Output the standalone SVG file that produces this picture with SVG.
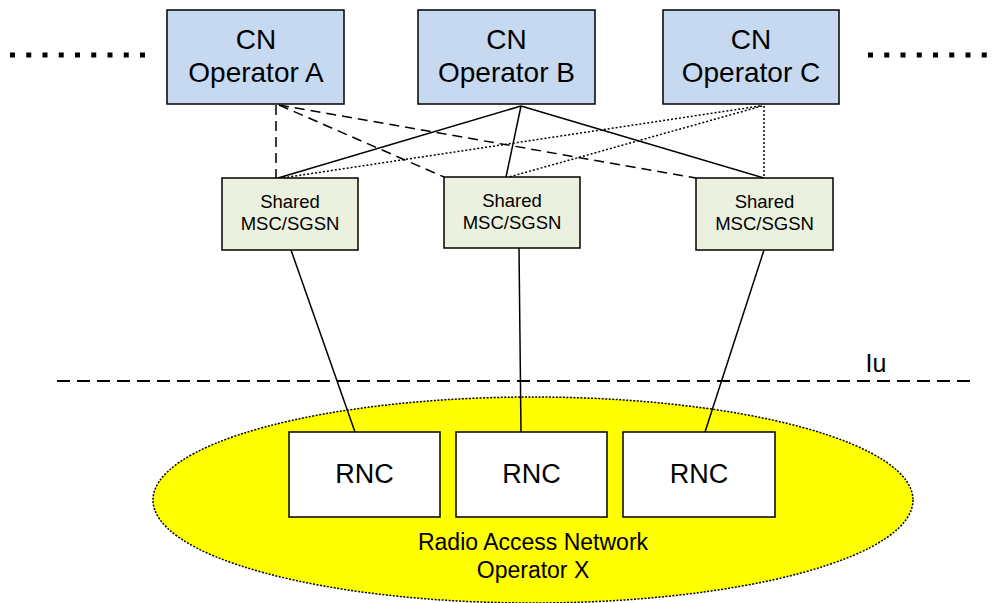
<svg xmlns="http://www.w3.org/2000/svg" width="996" height="603" viewBox="0 0 996 603">
<style>
.cn{fill:#c6d9f1;stroke:#000;stroke-width:1.5}
.sh{fill:#ebf1de;stroke:#000;stroke-width:1.5}
.rnc{fill:#fff;stroke:#000;stroke-width:1.5}
text{font-family:"Liberation Sans",Arial,sans-serif;fill:#000;text-anchor:middle}
.t28{font-size:28px}
.t18{font-size:18.5px}
.t27{font-size:27px}
.t23{font-size:23px}
.solid{stroke:#000;stroke-width:1.5;fill:none}
.dash{stroke:#000;stroke-width:1.5;fill:none;stroke-dasharray:10 6}
.dot{stroke:#000;stroke-width:1.5;fill:none;stroke-dasharray:2 2}
</style>
<g id="ran">
<ellipse cx="533" cy="500" rx="380" ry="103" fill="#ffff00" stroke="#000" stroke-width="1.5" stroke-dasharray="2 1.5"/>
<text class="t23" x="533" y="550">Radio Access Network</text>
<text class="t23" x="533" y="578">Operator X</text>
</g>
<g id="ellipsis-left"><line x1="10" y1="55" x2="150" y2="55" stroke="#000" stroke-width="5" stroke-dasharray="5 11.25"/></g>
<g id="ellipsis-right"><line x1="868" y1="55" x2="990" y2="55" stroke="#000" stroke-width="5" stroke-dasharray="5 11.25"/></g>
<g id="iu">
<line x1="57" y1="381" x2="975" y2="381" stroke="#000" stroke-width="2" stroke-dasharray="13 7"/>
<text x="876" y="372" style="font-size:25px">Iu</text>
</g>
<g id="connectors">
<line class="dash" x1="276" y1="105" x2="276" y2="178"/>
<line class="dash" x1="279" y1="105" x2="444" y2="177"/>
<line class="dash" x1="279" y1="105" x2="696" y2="178"/>
<line class="solid" x1="521" y1="106" x2="278" y2="178"/>
<line class="solid" x1="521" y1="106" x2="506" y2="177"/>
<line class="solid" x1="521" y1="106" x2="764" y2="178"/>
<line class="dot" x1="760" y1="106" x2="282" y2="178"/>
<line class="dot" x1="762" y1="106" x2="509" y2="177"/>
<line class="dot" x1="764" y1="106" x2="764" y2="178"/>
<line class="solid" x1="291" y1="250" x2="355" y2="432"/>
<line class="solid" x1="519" y1="248" x2="521" y2="432"/>
<line class="solid" x1="764" y1="250" x2="705" y2="432"/>
</g>
<g id="cn-a"><rect class="cn" x="167" y="10" width="177" height="94"/><text class="t28" x="256" y="49">CN</text><text class="t28" x="256" y="82">Operator A</text></g>
<g id="cn-b"><rect class="cn" x="418" y="10" width="177" height="94"/><text class="t28" x="506.5" y="49">CN</text><text class="t28" x="506.5" y="82">Operator B</text></g>
<g id="cn-c"><rect class="cn" x="663" y="10" width="176" height="94"/><text class="t28" x="751" y="49">CN</text><text class="t28" x="751" y="82">Operator C</text></g>
<g id="shared-1"><rect class="sh" x="222" y="178" width="136" height="72"/><text class="t18" x="290" y="208">Shared</text><text class="t18" x="290" y="230">MSC/SGSN</text></g>
<g id="shared-2"><rect class="sh" x="444" y="177" width="136" height="71"/><text class="t18" x="512" y="207">Shared</text><text class="t18" x="512" y="229">MSC/SGSN</text></g>
<g id="shared-3"><rect class="sh" x="696" y="178" width="137" height="72"/><text class="t18" x="764.5" y="208">Shared</text><text class="t18" x="764.5" y="230">MSC/SGSN</text></g>
<g id="rnc-1"><rect class="rnc" x="289" y="432" width="151" height="85"/><text class="t27" x="364.5" y="483">RNC</text></g>
<g id="rnc-2"><rect class="rnc" x="456" y="432" width="151" height="85"/><text class="t27" x="531.5" y="483">RNC</text></g>
<g id="rnc-3"><rect class="rnc" x="623" y="432" width="152" height="85"/><text class="t27" x="699" y="483">RNC</text></g>
</svg>
